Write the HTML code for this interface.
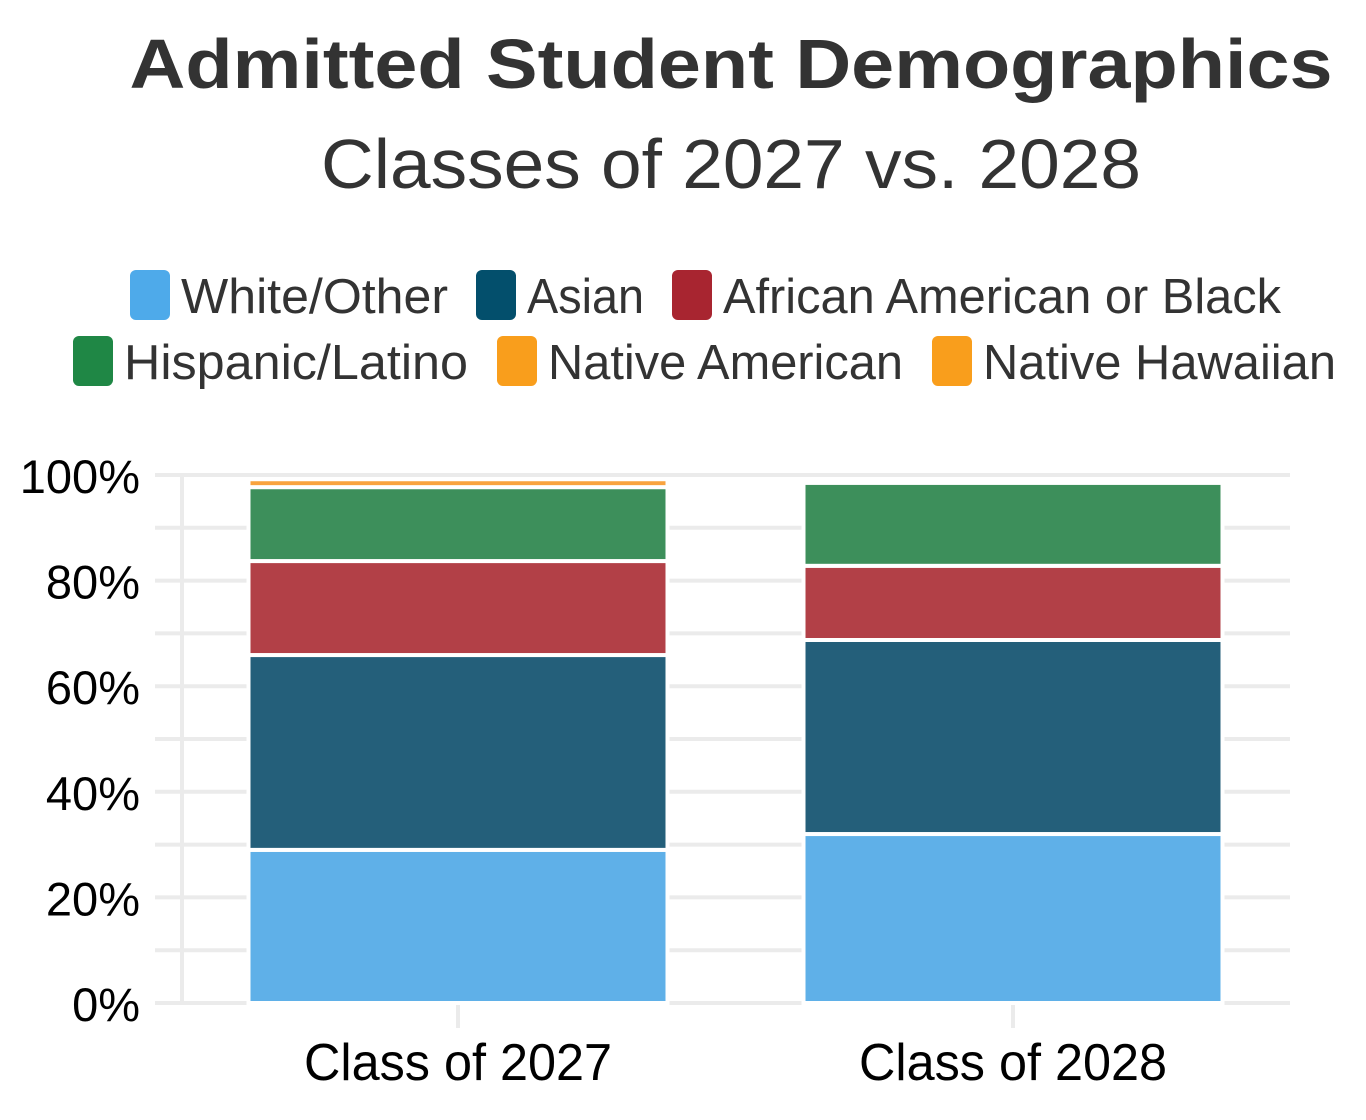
<!DOCTYPE html>
<html><head><meta charset="utf-8"><style>
html,body{margin:0;padding:0;background:#fff}
svg{display:block}
text{font-family:"Liberation Sans",sans-serif}
</style></head><body>
<svg id="chart" width="1366" height="1120" viewBox="0 0 1366 1120" xmlns="http://www.w3.org/2000/svg">
<text x="731" y="88" text-anchor="middle" font-size="70" font-weight="bold" fill="#333" textLength="1203" lengthAdjust="spacingAndGlyphs">Admitted Student Demographics</text>
<text x="731" y="188" text-anchor="middle" font-size="70" fill="#333" textLength="820" lengthAdjust="spacingAndGlyphs">Classes of 2027 vs. 2028</text>
<g id="legend"></g>
<g id="grid"></g>
<g id="bars"></g>
<g id="axes"></g>
</svg>
<script>
const categories = ["Class of 2027", "Class of 2028"];
const seriesNames = ["White/Other", "Asian", "African American or Black", "Hispanic/Latino", "Native American", "Native Hawaiian"];
const whiteOther = [29.0, 32.0];
const asian = [36.9, 36.75];
const africanAmerican = [17.8, 14.05];
const hispanic = [14.0, 15.7];
const nativeAmerican = [1.5, 0];
const nativeHawaiian = [0, 0];
const yTicks = [0, 20, 40, 60, 80, 100];
const yTickLabels = ["0%", "20%", "40%", "60%", "80%", "100%"];

const series = [whiteOther, asian, africanAmerican, hispanic, nativeAmerican, nativeHawaiian];
const barColors = ["#5fb0e8", "#245f7a", "#b24047", "#3d8f5b", "#f9a33e", "#f9a33e"];
const legendColors = ["#4eaaea", "#034f6c", "#a82530", "#1f8745", "#f99e1c", "#f99e1c"];
const NS = "http://www.w3.org/2000/svg";
const y0 = 1003, y100 = 475;
const yScale = v => y0 - (y0 - y100) * v / 100;
const xCenter = i => 458 + i * 555;
const barW = 419;
function mk(tag, attrs, parent) {
  const e = document.createElementNS(NS, tag);
  for (const k in attrs) e.setAttribute(k, attrs[k]);
  parent.appendChild(e);
  return e;
}
const grid = document.getElementById('grid');
for (let v = 0; v <= 100; v += 10) {
  const l = mk('line', {x1: 155, x2: 1290, y1: yScale(v), y2: yScale(v), stroke: '#ebebeb', 'stroke-width': 4}, grid);
  
  
}
const vl = mk('line', {x1: 182, x2: 182, y1: 475, y2: 1003, stroke: '#ebebeb', 'stroke-width': 4}, grid);



const bars = document.getElementById('bars');
categories.forEach((c, i) => {
  let cum = 0;
  series.forEach((s, j) => {
    const v = s[i];
    if (v > 0) {
      const yt = yScale(cum + v), yb = yScale(cum);
      const r = mk('rect', {x: xCenter(i) - barW / 2, y: yt, width: barW, height: yb - yt, fill: barColors[j], stroke: '#fff', 'stroke-width': 4}, bars);
      
      
    }
    cum += v;
  });
});

const axes = document.getElementById('axes');
yTicks.forEach((t, k) => {
  const tx = mk('text', {x: 140, y: yScale(t) + 18, 'text-anchor': 'end', 'font-size': 47, fill: '#000'}, axes);
  tx.textContent = yTickLabels[k];
  
  
});
categories.forEach((c, i) => {
  const tk = mk('line', {x1: xCenter(i), x2: xCenter(i), y1: 1005, y2: 1028, stroke: '#ebebeb', 'stroke-width': 4}, axes);
  
  
  const tx = mk('text', {x: xCenter(i), y: 1080, 'text-anchor': 'middle', 'font-size': 52, fill: '#000', textLength: 308, lengthAdjust: 'spacingAndGlyphs'}, axes);
  tx.textContent = c;
  
  
});

const legend = document.getElementById('legend');
const legendPos = [[130, 270, 267], [476, 270, 117], [672, 270, 558], [73, 336, 344], [497, 336, 355], [932, 336, 353]];
seriesNames.forEach((n, j) => {
  const p = legendPos[j];
  const g = mk('g', {}, legend);
  
  
  mk('rect', {x: p[0], y: p[1], width: 40, height: 50, rx: 6, fill: legendColors[j]}, g);
  const t = mk('text', {x: p[0] + 51, y: p[1] + 43, 'font-size': 49, fill: '#333', textLength: p[2], lengthAdjust: 'spacingAndGlyphs'}, g);
  t.textContent = n;
});
</script>
</body></html>
